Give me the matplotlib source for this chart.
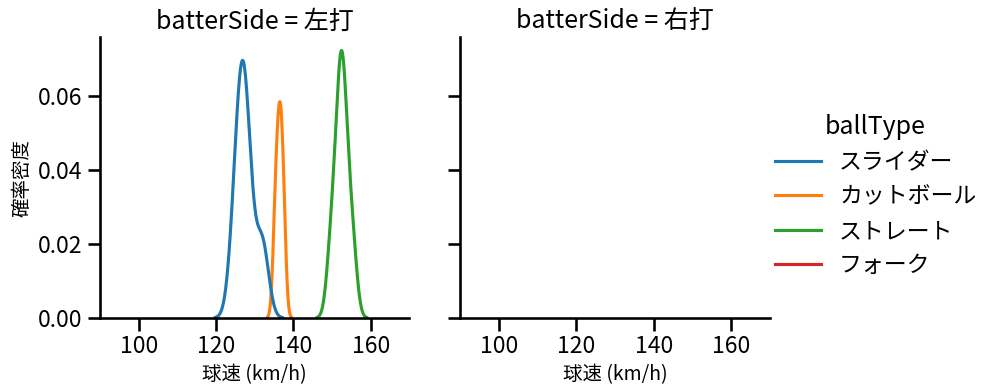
import matplotlib
matplotlib.use("Agg")
import matplotlib.pyplot as plt
import seaborn as sns
import pandas as pd

# 球速データ (km/h) - 左打者に対する投球
slider = [124.4, 125.4, 126.0, 126.5, 127.0, 127.1, 127.6, 128.1, 129.1, 131.5, 132.5]
cutter = [135.35, 136.2, 136.7, 137.45]
straight = [149.6, 150.8, 151.9, 151.9, 152.5, 153.1, 153.1, 154.3, 155.5]
fork = [140.0]

ball_types = ["スライダー", "カットボール", "ストレート", "フォーク"]
sides = ["左打", "右打"]

speeds = slider + cutter + straight + fork
types = (["スライダー"] * len(slider) + ["カットボール"] * len(cutter)
         + ["ストレート"] * len(straight) + ["フォーク"] * len(fork))
df = pd.DataFrame({"球速": speeds, "ballType": types, "batterSide": "左打"})

sns.set_context("talk")
plt.rcParams["font.family"] = ["Noto Sans CJK JP", "DejaVu Sans"]

g = sns.displot(data=df, x="球速", hue="ballType", hue_order=ball_types,
                col="batterSide", col_order=sides, kind="kde",
                height=3.9, aspect=1.1, warn_singular=False)
g.set(xlim=(90, 170), xticks=[100, 120, 140, 160])
g.set_axis_labels("球速 (km/h)", "確率密度", fontsize=14)

g.figure.set_size_inches(9.97, 3.91)
g.figure.subplots_adjust(left=0.1003, right=0.772, top=0.905, bottom=0.187, wspace=0.165)

g.figure.savefig("out.png", dpi=100)
